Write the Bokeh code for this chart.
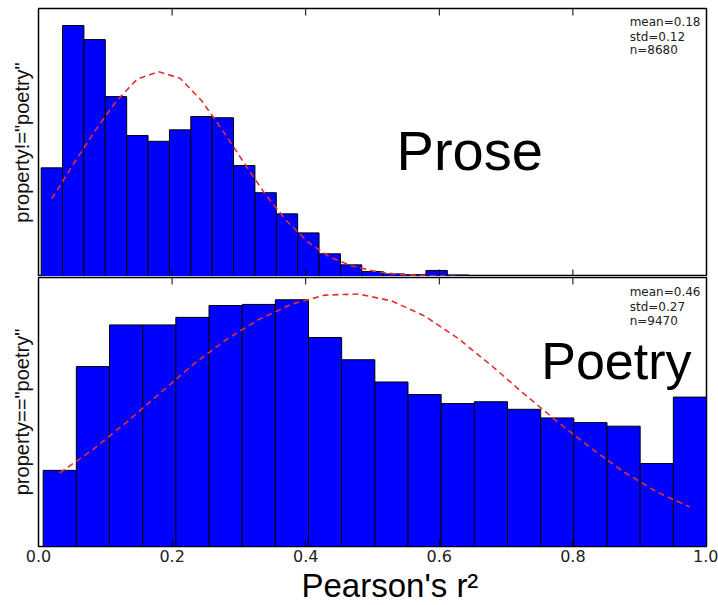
import numpy as np
from bokeh.plotting import figure
from bokeh.layouts import column
from bokeh.models import (Range1d, LinearAxis, FixedTicker, Label, NumeralTickFormatter,
                          ColumnDataSource, Title)
from bokeh.embed import file_html
from bokeh.resources import INLINE

# ---------------- data ----------------
prose_counts = [503, 1162, 1097, 833, 653, 626, 679, 741, 735, 514,
                388, 290, 202, 105, 54, 23, 12, 8, 28, 7]
prose_fit = [360, 520, 672, 810, 915, 948, 918, 815, 675, 525,
             378, 256, 158, 90, 50, 26, 12, 5, 2, 1]
prose_bin_range = (0.004, 0.644)

poetry_counts = [212, 501, 617, 617, 638, 671, 674, 687, 582, 520,
                 458, 423, 398, 403, 382, 358, 345, 335, 231, 416]
poetry_fit = [205, 270, 345, 425, 505, 575, 632, 675, 700, 703,
              684, 642, 580, 505, 425, 348, 275, 208, 152, 110]
poetry_bin_range = (0.007, 1.0)

x_ticks = [0.0, 0.2, 0.4, 0.6, 0.8, 1.0]
prose_stats = ["mean=0.18", "std=0.12", "n=8680"]
poetry_stats = ["mean=0.46", "std=0.27", "n=9470"]
prose_ylabel = 'property!="poetry"'
poetry_ylabel = 'property=="poetry"'
x_label = "Pearson's r\u00b2"

W = 718
LEFT = 38
RIGHT = 12


def panel(counts, fit, rng, ymax, height, ylabel, name, name_xy, name_size,
          stats, stats_y, show_labels, top_border, bottom_border):
    edges = np.linspace(rng[0], rng[1], len(counts) + 1)
    centers = (edges[:-1] + edges[1:]) / 2
    p = figure(width=W, height=height, output_backend="svg", toolbar_location=None,
               x_range=Range1d(0, 1), y_range=Range1d(0, ymax),
               x_axis_location=None, y_axis_location="left",
               min_border_left=LEFT, min_border_right=RIGHT,
               min_border_top=top_border, min_border_bottom=bottom_border)
    p.grid.visible = False
    p.outline_line_color = "black"
    p.outline_line_width = 1.5
    p.background_fill_color = "white"
    p.border_fill_color = "white"

    ya = p.yaxis[0]
    ya.ticker = FixedTicker(ticks=[])
    ya.major_tick_in = 0
    ya.major_tick_out = 0
    ya.minor_tick_in = 0
    ya.minor_tick_out = 0
    ya.axis_line_color = None
    ya.axis_label = ylabel
    ya.axis_label_text_font = "Liberation Sans"
    ya.axis_label_text_font_style = "normal"
    ya.axis_label_text_font_size = "20px"
    ya.axis_label_text_color = "#111111"
    ya.axis_label_standoff = 6

    src = ColumnDataSource(dict(left=edges[:-1], right=edges[1:], top=counts))
    p.quad(left="left", right="right", top="top", bottom=0, source=src,
           fill_color="#0000ff", line_color="black", line_width=1)
    p.line(centers, fit, line_color="#e3302f", line_width=1.6, line_dash="6 4")

    # inward tick marks on the top edge (and bottom edge when no labelled axis)
    n = len(x_ticks)
    p.ray(x=x_ticks, y=[ymax] * n, length=7, length_units="screen",
          angle=-np.pi / 2, line_color="black", line_width=1)
    if show_labels:
        ax = LinearAxis(ticker=FixedTicker(ticks=x_ticks),
                        formatter=NumeralTickFormatter(format="0.0"))
        ax.major_tick_in = 7
        ax.major_tick_out = 0
        ax.minor_tick_in = 0
        ax.minor_tick_out = 0
        ax.major_tick_line_color = "black"
        ax.axis_line_color = None
        ax.major_label_text_font = "DejaVu Sans"
        ax.major_label_text_font_size = "16px"
        ax.major_label_text_color = "#222222"
        ax.major_label_standoff = 3
        p.add_layout(ax, "below")
    else:
        p.ray(x=x_ticks, y=[0] * n, length=7, length_units="screen",
              angle=np.pi / 2, line_color="black", line_width=1)

    p.add_layout(Label(x=name_xy[0], y=name_xy[1], text=name,
                       text_font="Liberation Sans", text_font_size=name_size,
                       text_color="black", text_baseline="alphabetic"))
    for s, yy in zip(stats, stats_y):
        p.add_layout(Label(x=0.885, y=yy, text=s, text_font="DejaVu Sans",
                           text_font_size="12px", text_color="#222222",
                           text_baseline="alphabetic"))
    return p


top = panel(prose_counts, prose_fit, prose_bin_range, 1241, 276, prose_ylabel,
            "Prose", (0.536, 584), "56px", prose_stats, [1178, 1111, 1047],
            False, 8, 0)
bot = panel(poetry_counts, poetry_fit, poetry_bin_range, 749, 329, poetry_ylabel,
            "Poetry", (0.7526, 517), "52px", poetry_stats, [708, 668, 629],
            True, 1, 59)
bot.add_layout(Title(text=x_label, align="left", offset=263, standoff=0,
                     text_font="Liberation Sans", text_font_size="33px",
                     text_font_style="normal", text_color="black"), "below")

layout = column(top, bot, spacing=0)
open("out.html", "w").write(file_html(layout, INLINE))
